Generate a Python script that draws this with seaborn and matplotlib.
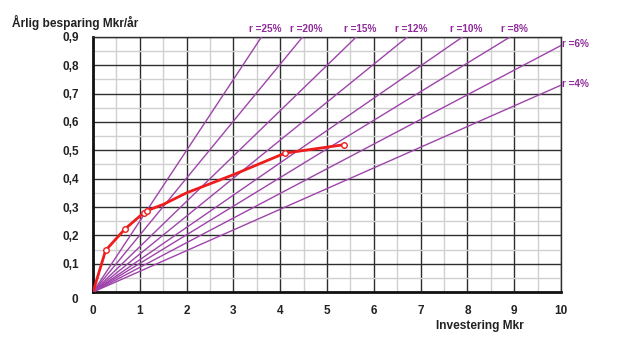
import matplotlib
matplotlib.use("Agg")
import matplotlib.pyplot as plt
import seaborn as sns
import numpy as np
import pandas as pd
from matplotlib.ticker import MultipleLocator

# --- data ---
rates = ["r =25%", "r =20%", "r =15%", "r =12%", "r =10%", "r =8%", "r =6%", "r =4%"]
slopes = [0.250, 0.201, 0.160, 0.134, 0.114, 0.101, 0.087, 0.073]  # Mkr/år per Mkr

curve_x = [0, 0.27, 0.68, 1.08, 1.15, 1.5, 2.0, 3.0, 4.10, 5.37]
curve_y = [0, 0.147, 0.222, 0.279, 0.287, 0.309, 0.350, 0.414, 0.490, 0.520]
marker_x = [0.27, 0.68, 1.08, 1.15, 4.10, 5.37]
marker_y = [0.147, 0.222, 0.279, 0.287, 0.490, 0.520]

x_ticks = list(range(0, 11))
y_ticks = [0.1, 0.2, 0.3, 0.4, 0.5, 0.6, 0.7, 0.8, 0.9]
y_labels = ["0,1", "0,2", "0,3", "0,4", "0,5", "0,6", "0,7", "0,8", "0,9"]

XMAX, YMAX = 10, 0.9

sns.set_style("white")
plt.rcParams['font.family'] = ['Liberation Sans', 'DejaVu Sans']

fig = plt.figure(figsize=(6.18, 3.45), dpi=100)
ax = fig.add_axes([0.1505, 0.1536, 0.7573, 0.7392])

PURPLE = "#9e44aa"
LABEL = "#8e2a9a"
RED = "#ee1c1c"

# rays
rows = []
for name, s in zip(rates, slopes):
    xe = min(XMAX, YMAX / s)
    rows.append(pd.DataFrame({"x": [0, xe], "y": [0, s * xe], "r": name}))
rays = pd.concat(rows, ignore_index=True)
sns.lineplot(data=rays, x="x", y="y", units="r", estimator=None, color=PURPLE,
             lw=1.0, ax=ax, zorder=3, legend=False)

for name, s in zip(rates, slopes):
    xe = YMAX / s
    if xe < XMAX:
        ax.annotate(name, (xe, YMAX), xytext=(3, 2), textcoords="offset points",
                    ha="center", va="bottom", color=LABEL, fontsize=7.2,
                    fontweight="bold", annotation_clip=False)
    else:
        ax.annotate(name, (XMAX, s * XMAX), xytext=(1, 1), textcoords="offset points",
                    ha="left", va="center", color=LABEL, fontsize=7.2,
                    fontweight="bold", annotation_clip=False)

# red curve
cdf = pd.DataFrame({"x": curve_x, "y": curve_y})
sns.lineplot(data=cdf, x="x", y="y", sort=False, estimator=None, color=RED,
             lw=2.0, ax=ax, zorder=5)
mdf = pd.DataFrame({"x": marker_x, "y": marker_y})
sns.scatterplot(data=mdf, x="x", y="y", marker="o", s=16, facecolor="white",
                edgecolor=RED, linewidth=1.0, ax=ax, zorder=6)

ax.set_xlim(0, XMAX)
ax.set_ylim(0, YMAX)

# grid
ax.xaxis.set_major_locator(MultipleLocator(1))
ax.xaxis.set_minor_locator(MultipleLocator(0.5))
ax.yaxis.set_major_locator(MultipleLocator(0.1))
ax.yaxis.set_minor_locator(MultipleLocator(0.05))
ax.grid(which="minor", color="#d0d0d0", lw=1.0, zorder=1)
ax.grid(which="major", color="#2e2e2e", lw=1.0, zorder=2)
ax.set_axisbelow(True)

ax.set_xticks(x_ticks)
ax.set_xticklabels([str(v) for v in x_ticks])
ax.set_yticks(y_ticks)
ax.set_yticklabels(y_labels)
ax.tick_params(which="both", length=0)
ax.tick_params(axis="y", pad=10, labelsize=8.5)
ax.tick_params(axis="x", pad=9, labelsize=8.5)
for t in ax.get_xticklabels() + ax.get_yticklabels():
    t.set_fontweight("bold")
    t.set_color("#222222")

for side in ["left", "bottom"]:
    ax.spines[side].set_color("#111111")
    ax.spines[side].set_linewidth(2.0)
for side in ["top", "right"]:
    ax.spines[side].set_color("#2e2e2e")
    ax.spines[side].set_linewidth(1.0)

ax.set_xlabel("")
ax.set_ylabel("")

# y zero label, offset below
ax.annotate("0", (0, 0), xytext=(-13, -6), textcoords="offset points",
            ha="center", va="center", fontsize=8.5, fontweight="bold",
            color="#222222", annotation_clip=False)

fig.text(12 / 618, 1 - 22 / 345, "Årlig besparing Mkr/år", ha="left", va="center",
         fontsize=8.6, fontweight="bold", color="#222222")
fig.text(480 / 618, 1 - 326 / 345, "Investering Mkr", ha="center", va="center",
         fontsize=8.6, fontweight="bold", color="#222222")

fig.savefig("out.png", dpi=100)
